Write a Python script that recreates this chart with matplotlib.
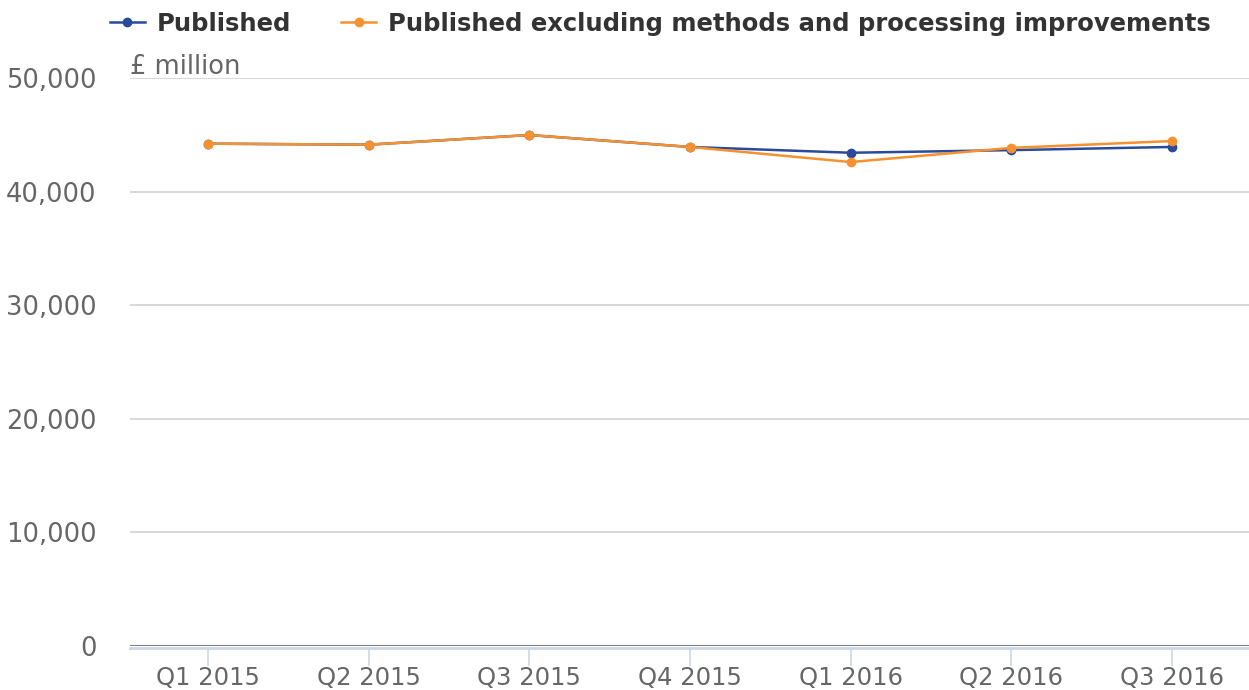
import matplotlib.pyplot as plt
from matplotlib.lines import Line2D

plt.rcParams['font.family'] = ['DejaVu Sans']

quarters = ["Q1 2015", "Q2 2015", "Q3 2015", "Q4 2015", "Q1 2016", "Q2 2016", "Q3 2016"]
published = [44220, 44130, 44980, 43930, 43420, 43650, 43930]
published_excl = [44220, 44130, 44980, 43930, 42600, 43850, 44450]
yticks = [0, 10000, 20000, 30000, 40000, 50000]

blue = "#2a4a9b"
orange = "#f5922f"
grey_txt = "#666666"

fig = plt.figure(figsize=(12.49, 6.90), dpi=100)
ax = fig.add_axes([130 / 1249, 1 - 646 / 690, 1 - 130 / 1249, (646 - 78) / 690])

x = list(range(len(quarters)))
ax.plot(x, published, color=blue, linewidth=1.8, marker="o", markersize=6, label="Published", zorder=3)
ax.plot(x, published_excl, color=orange, linewidth=1.8, marker="o", markersize=6,
        label="Published excluding methods and processing improvements", zorder=4)

ax.set_xlim(-0.485, 6.48)
ax.set_ylim(0, 50000)
ax.set_yticks(yticks)
ax.set_yticklabels([f"{v:,}" for v in yticks])
ax.set_xticks(x)
ax.set_xticklabels(quarters)

for s in ["top", "right", "left"]:
    ax.spines[s].set_visible(False)
ax.spines["bottom"].set_color("#ccd6eb")
ax.spines["bottom"].set_linewidth(2)
ax.spines["bottom"].set_position(("outward", 1.5))
ax.grid(axis="y", color="#d9d9d9", linewidth=1.5)
ax.set_axisbelow(True)
ax.axhline(0, color="#808080", linewidth=1.5, zorder=2.5)

ax.tick_params(axis="y", length=0, pad=24, labelsize=18.5, labelcolor=grey_txt)
ax.tick_params(axis="x", length=13, width=1.2, color="#ccd6eb", pad=0, labelsize=17.5, labelcolor=grey_txt)

fig.text(130 / 1249, 1 - 67 / 690, "£ million", fontsize=18.5, color=grey_txt, ha="left", va="center")

handles = [
    Line2D([], [], color=blue, linewidth=1.8, marker="o", markersize=6),
    Line2D([], [], color=orange, linewidth=1.8, marker="o", markersize=6),
]
labels = ["Published", "Published excluding methods and processing improvements"]
leg = fig.legend(handles, labels, loc="center left", bbox_to_anchor=(88 / 1249, 1 - 24 / 690),
                 ncol=2, frameon=False, handlelength=1.44, handletextpad=0.5, columnspacing=2.05,
                 prop={"size": 17.5, "weight": "bold"})
for t in leg.get_texts():
    t.set_color("#333333")

plt.savefig("out.png", dpi=100)
